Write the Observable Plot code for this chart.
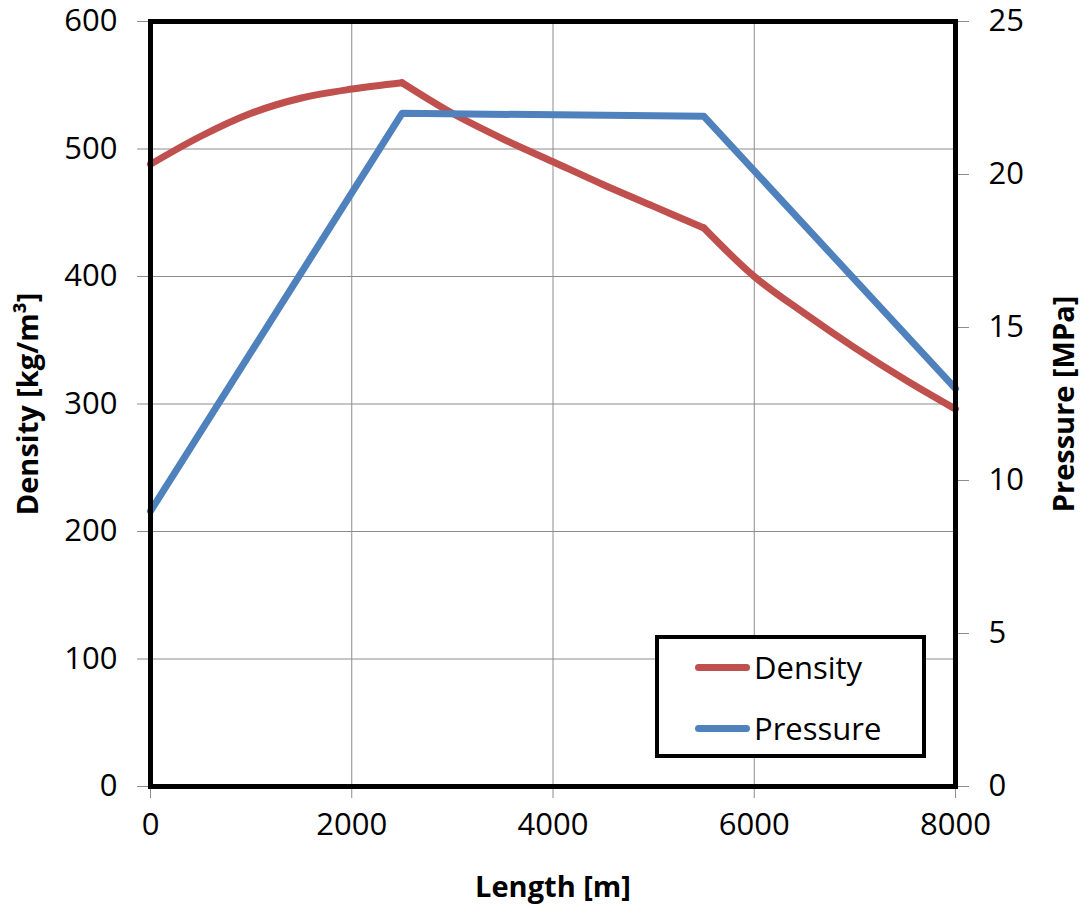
<!DOCTYPE html>
<html><head><meta charset="utf-8">
<script src="https://cdn.jsdelivr.net/npm/d3@7"></script>
<script src="https://cdn.jsdelivr.net/npm/@observablehq/plot@0.6"></script>
<style>
body{margin:0;background:#fff;}
#wrap{position:relative;width:1080px;height:906px;font-family:'Open Sans',sans-serif;}
#wrap svg [aria-label$="axis label"] text{font-weight:bold;font-size:29px;}
#legend{position:absolute;left:655px;top:635px;width:271px;height:123px;box-sizing:border-box;border:4.5px solid #000;background:#fff;}
.row{position:absolute;left:36px;height:40px;display:flex;align-items:center;font-size:31px;color:#000;}
.sw{width:55px;height:7px;border-radius:4px;margin-right:4px;}
</style></head><body><div id="wrap"></div>
<script>
// Data
const lengths = [0, 500, 1000, 1500, 2000, 2500, 3000, 3500, 4000, 4500, 5000, 5500, 6000, 6500, 7000, 7500, 8000];
const density = [488, 510, 528, 540, 547, 552, 528, 508, 490, 472, 455, 438, 400, 371, 344, 319, 296];
const densitySegment = [1, 1, 1, 1, 1, 1, 2, 2, 2, 2, 2, 2, 3, 3, 3, 3, 3];
const pressureLengths = [0, 2500, 5500, 8000];
const pressure = [9.0, 22.0, 21.9, 13.0];
const xTicks = [0, 2000, 4000, 6000, 8000];
const densityTicks = [0, 100, 200, 300, 400, 500, 600];
const pressureTicks = [0, 5, 10, 15, 20, 25];
const seriesNames = ["Density", "Pressure"];
const colors = ["#C0504D", "#4F81BD"];

const k = 600 / 25; // pressure (MPa) -> density-axis units

// density table with segments sharing the kink points
const densityData = [];
lengths.forEach((L, i) => {
  densityData.push({L, v: density[i], seg: densitySegment[i]});
  if (i + 1 < lengths.length && densitySegment[i + 1] !== densitySegment[i]) {
    densityData.push({L, v: density[i], seg: densitySegment[i + 1]});
  }
});
const pressureData = pressureLengths.map((L, i) => ({L, v: pressure[i] * k}));

const grid = "#8c8c8c";
const chart = Plot.plot({
  width: 1080, height: 906,
  marginLeft: 150, marginRight: 125, marginTop: 21, marginBottom: 120,
  style: {fontFamily: "'Open Sans', sans-serif", fontSize: "31px", color: "black", background: "white"},
  x: {domain: [0, 8000]},
  y: {domain: [0, 600]},
  marks: [
    Plot.gridX(xTicks, {stroke: grid, strokeOpacity: 1, strokeWidth: 1}),
    Plot.gridY(densityTicks, {stroke: grid, strokeOpacity: 1, strokeWidth: 1}),
    Plot.axisX(xTicks, {tickSize: 12, tickPadding: 14, stroke: grid, fill: "black", fontSize: 31,
      tickFormat: d => String(d),
      label: "Length [m]", labelAnchor: "center", labelOffset: 110, labelArrow: "none"}),
    Plot.axisY(densityTicks, {anchor: "left", tickSize: 13, tickPadding: 20, stroke: grid, fill: "black", fontSize: 31,
      tickFormat: d => String(d),
      label: "Density [kg/m³]", labelAnchor: "center", labelOffset: 133, labelArrow: "none"}),
    Plot.axisY(pressureTicks.map(p => p * k), {anchor: "right", tickSize: 13, tickPadding: 20, stroke: grid, fill: "black", fontSize: 31,
      tickFormat: d => String(Math.round(d / k)),
      label: "Pressure [MPa]", labelAnchor: "center", labelOffset: 118, labelArrow: "none"}),
    Plot.line(densityData, {x: "L", y: "v", z: "seg", stroke: colors[0], strokeWidth: 7, curve: "catmull-rom", strokeLinecap: "round", strokeLinejoin: "round"}),
    Plot.line(pressureData, {x: "L", y: "v", stroke: colors[1], strokeWidth: 7, strokeLinecap: "round", strokeLinejoin: "round"}),
    Plot.frame({stroke: "black", strokeWidth: 5})
  ]
});
const wrap = document.getElementById("wrap");
wrap.appendChild(chart);

// legend
const legend = document.createElement("div");
legend.id = "legend";
seriesNames.forEach((name, i) => {
  const row = document.createElement("div");
  row.className = "row";
  row.style.top = (8 + i * 61) + "px";
  const sw = document.createElement("div");
  sw.className = "sw";
  sw.style.background = colors[i];
  const t = document.createElement("span");
  t.textContent = name;
  row.appendChild(sw); row.appendChild(t);
  legend.appendChild(row);
});
wrap.appendChild(legend);
</script>
</body></html>
